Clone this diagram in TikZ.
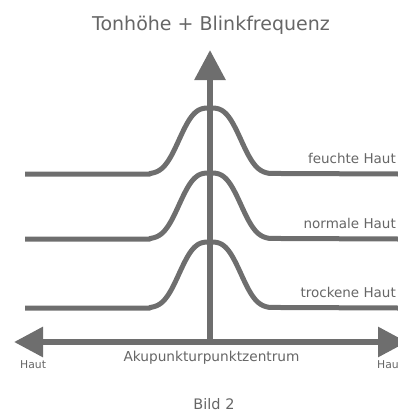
\documentclass[tikz,border=0pt]{standalone}
\usepackage{fontspec}
\setmainfont{DejaVu Sans}
\usetikzlibrary{arrows.meta}

\definecolor{linegray}{HTML}{6E6E6E}
\definecolor{textgray}{HTML}{666666}

\tikzset{
    curve/.style={draw=linegray, line width=5pt, line join=round},
    axis/.style={draw=linegray, line width=6pt},
    label/.style={text=textgray, inner sep=0pt, font=\fontsize{13.5}{16}\selectfont},
    small/.style={text=textgray, inner sep=0pt, font=\fontsize{10.8}{13}\selectfont}
}

\begin{document}
\begin{tikzpicture}[x=1pt, y=-1pt]
    \clip (0,0) rectangle (398,412);

    \coordinate (O) at (210,342);
    \coordinate (T) at (210,50);
    \coordinate (L) at (14,342);
    \coordinate (R) at (407,342);

    % Hautkurven
    \foreach \base/\name/\txt in {174/feuchte/feuchte Haut, 239/normale/normale Haut, 308/trockene/trockene Haut} {
        \draw [curve] (25,\base) -- (150,\base)
            -- plot [domain=-60:60, samples=97] ({210+\x}, {\base-66*exp(-(\x*\x/1267)^1.5)})
            -- (398,\base);
        \node [label, anchor=base east] (\name) at (396,\base-11) {\txt};
    }

    \draw [axis, -{Triangle[length=30pt,width=30pt]}] (O) -- (T);
    \draw [axis, {Triangle[length=29pt,width=29pt]}-{Triangle[length=29pt,width=29pt]}] (L) -- (R);

    \node [label, anchor=base, font=\fontsize{19}{22}\selectfont] (title) at (211,31) {Tonhöhe + Blinkfrequenz};
    \node [label, anchor=base, font=\fontsize{13.7}{16}\selectfont] (zentrum) at (211.5,361) {Akupunkturpunktzentrum};
    \node [small, anchor=base west] (hautL) at (20,368) {Haut};
    \node [small, anchor=base west] (hautR) at (377,368) {Haut};
    \node [label, anchor=base, font=\fontsize{14.5}{17}\selectfont] (bild) at (214,409) {Bild 2};
\end{tikzpicture}
\end{document}
